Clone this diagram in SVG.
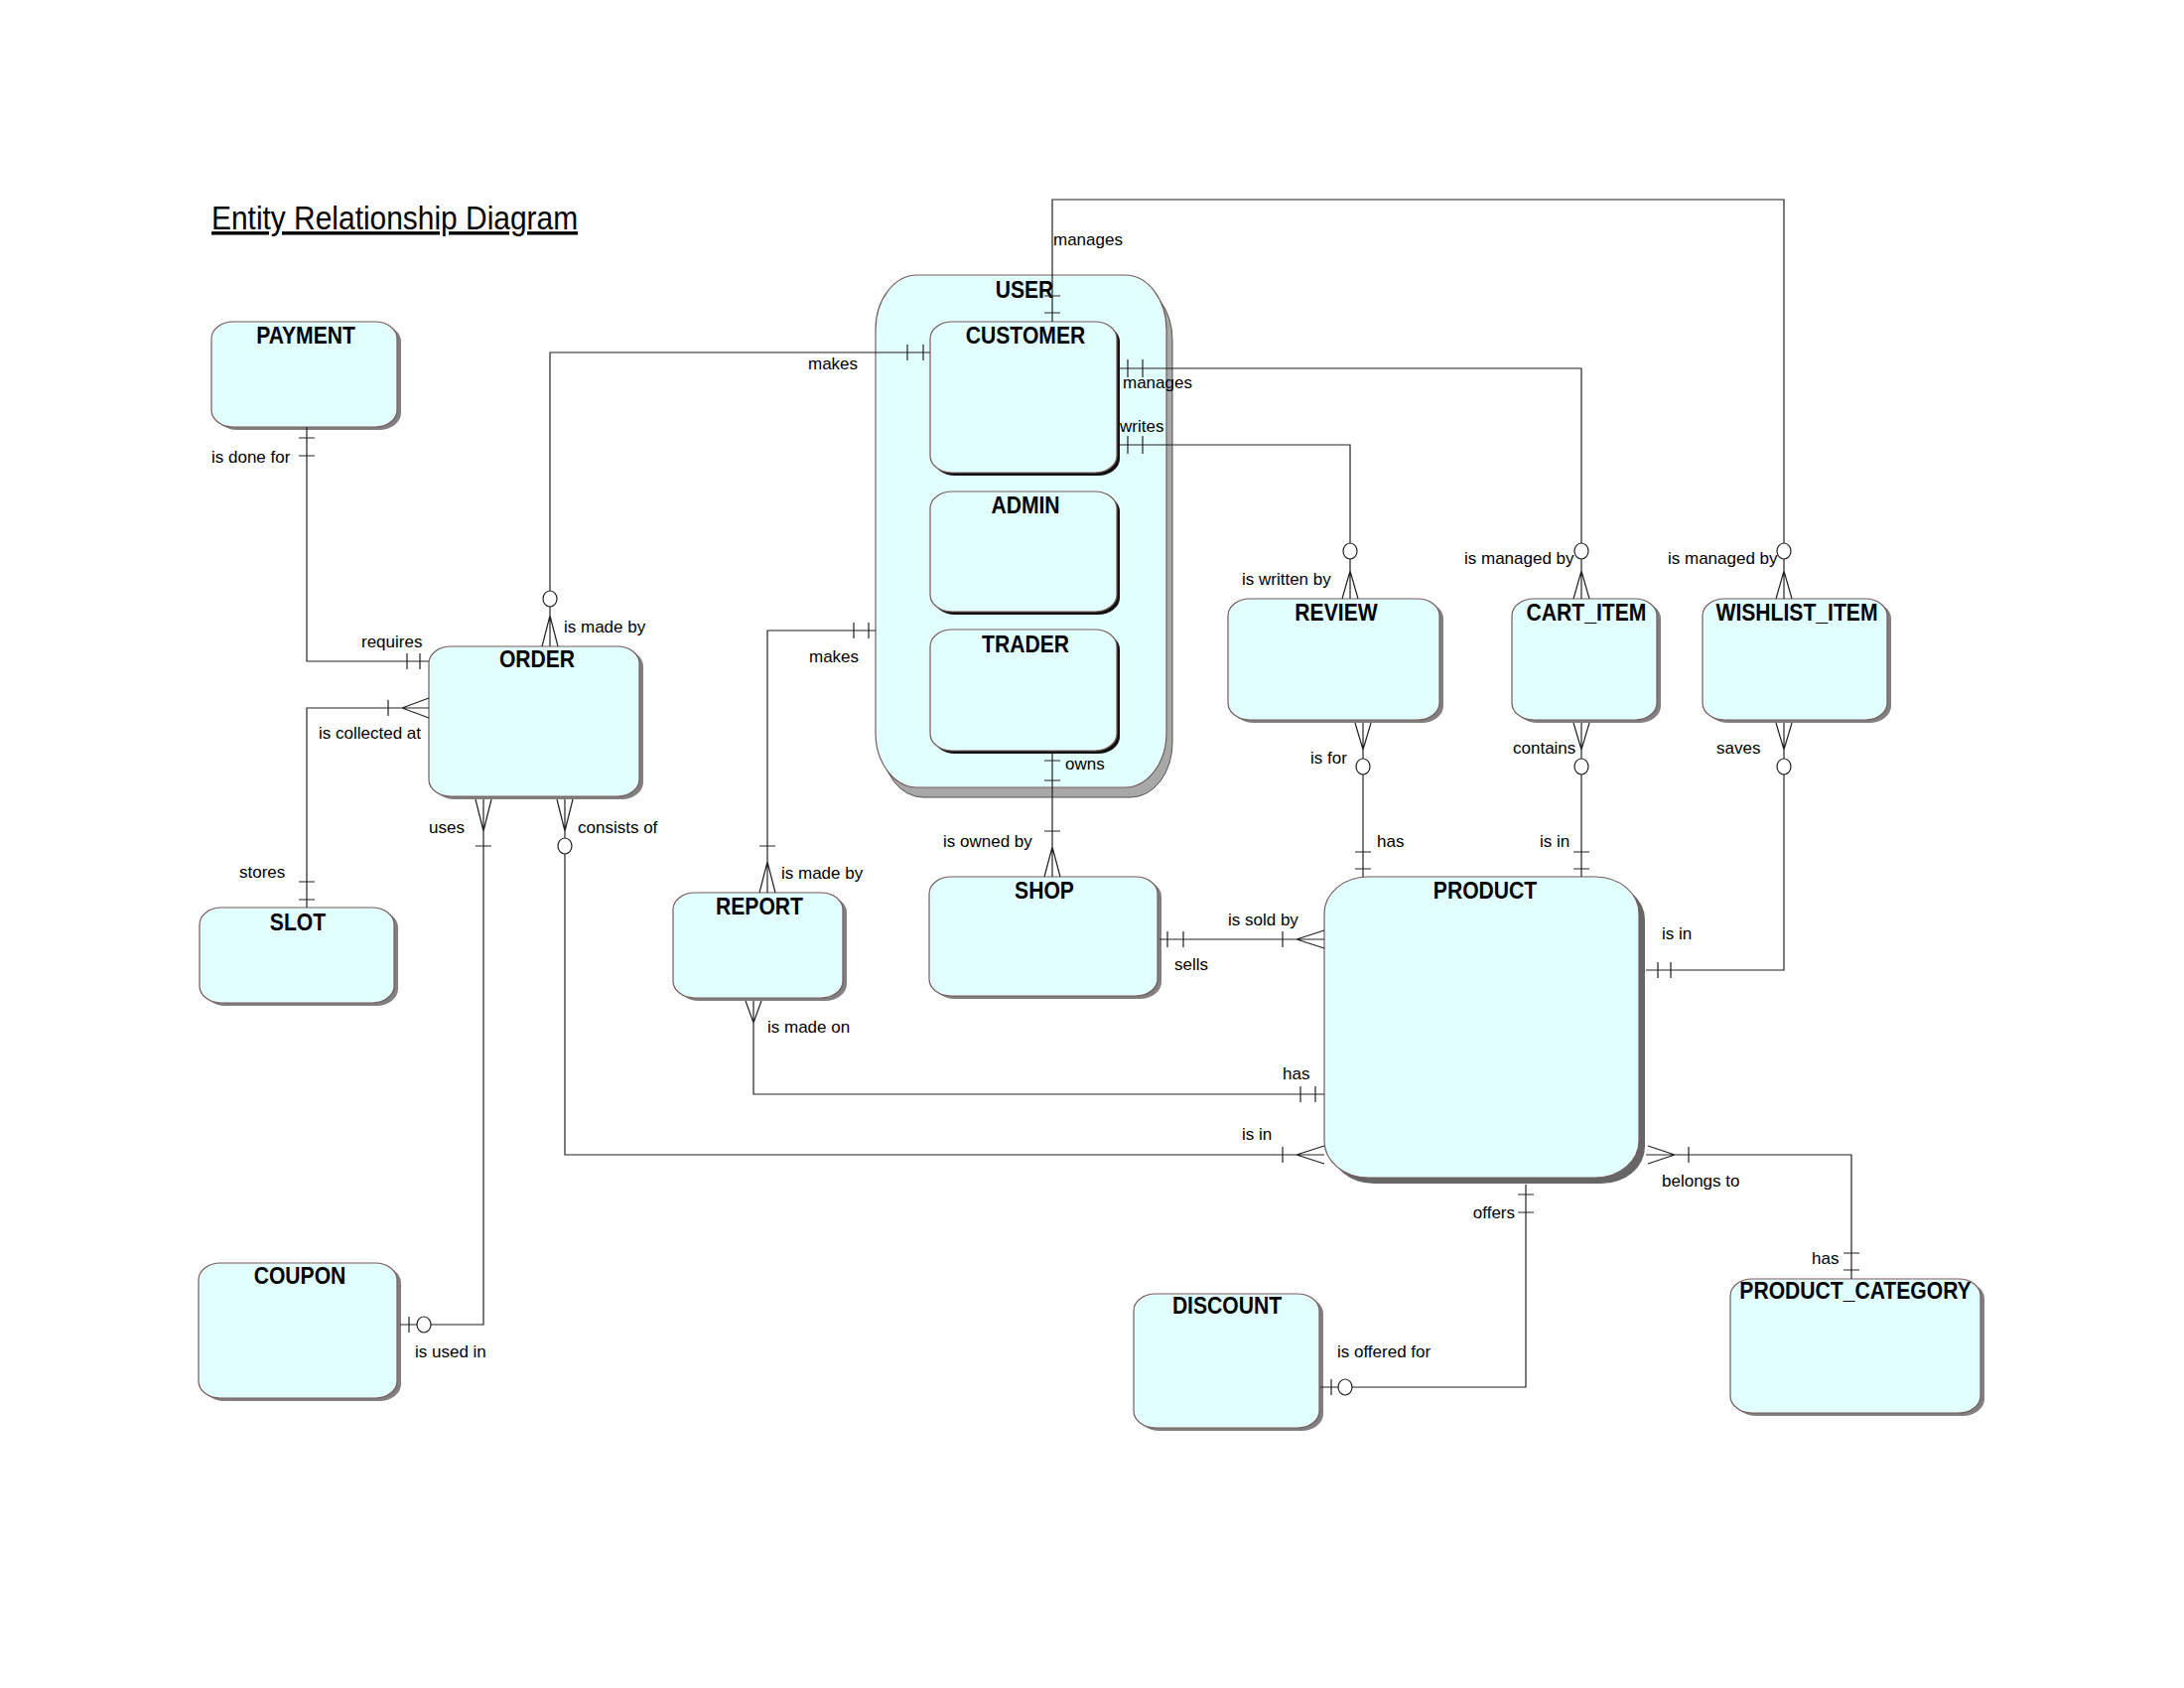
<svg xmlns="http://www.w3.org/2000/svg" width="2200" height="1700" viewBox="0 0 2200 1700">
<style>
.bg{fill:#ffffff}
.ent{fill:#e2ffff;stroke:#7a5a5a;stroke-width:1.2}
.sh{fill:#808080}
.shk{fill:#111111}
.shp{fill:#666666}
.shu{fill:#a8a8a8;stroke:#555;stroke-width:1}
.t{font-family:"Liberation Sans",Arial,sans-serif;font-weight:bold;font-size:24px;text-anchor:middle;fill:#000}
.l{font-family:"Liberation Sans",Arial,sans-serif;font-size:17px;fill:#000}
.c{fill:none;stroke:#222;stroke-width:1.2}
.o{fill:#ffffff;stroke:#222;stroke-width:1.2}
</style>
<rect class="bg" x="0" y="0" width="2200" height="1700"/>
<text id="title" transform="translate(213,231) scale(0.88,1)" font-family="Liberation Sans, Arial, sans-serif" font-size="34" text-decoration="underline">Entity Relationship Diagram</text>

<g id="USER">
  <rect class="shu" x="888" y="287" width="293" height="516" rx="42" ry="55"/>
  <rect class="ent" x="882" y="277" width="293" height="516" rx="42" ry="55"/>
  <text class="t" transform="translate(1032,300) scale(0.88,1)">USER</text>
</g>
<g id="CUSTOMER">
  <rect class="shk" x="940" y="327" width="188" height="152" rx="22" ry="17"/>
  <rect class="ent" x="937" y="324" width="188" height="152" rx="22" ry="17"/>
  <text class="t" transform="translate(1033,346) scale(0.88,1)">CUSTOMER</text>
</g>
<g id="ADMIN">
  <rect class="shk" x="940" y="498" width="188" height="121" rx="22" ry="17"/>
  <rect class="ent" x="937" y="495" width="188" height="121" rx="22" ry="17"/>
  <text class="t" transform="translate(1033,517) scale(0.88,1)">ADMIN</text>
</g>
<g id="TRADER">
  <rect class="shk" x="940" y="637" width="188" height="122" rx="22" ry="17"/>
  <rect class="ent" x="937" y="634" width="188" height="122" rx="22" ry="17"/>
  <text class="t" transform="translate(1033,657) scale(0.88,1)">TRADER</text>
</g>
<g id="PAYMENT">
  <rect class="sh" x="217" y="327" width="187" height="106" rx="22" ry="17"/>
  <rect class="ent" x="213" y="324" width="187" height="106" rx="22" ry="17"/>
  <text class="t" transform="translate(308,346) scale(0.88,1)">PAYMENT</text>
</g>
<g id="ORDER">
  <rect class="sh" x="436" y="654" width="212" height="151" rx="22" ry="17"/>
  <rect class="ent" x="432" y="651" width="212" height="151" rx="22" ry="17"/>
  <text class="t" transform="translate(541,672) scale(0.88,1)">ORDER</text>
</g>
<g id="SLOT">
  <rect class="sh" x="205" y="917" width="196" height="96" rx="22" ry="17"/>
  <rect class="ent" x="201" y="914" width="196" height="96" rx="22" ry="17"/>
  <text class="t" transform="translate(300,937) scale(0.88,1)">SLOT</text>
</g>
<g id="COUPON">
  <rect class="sh" x="204" y="1275" width="200" height="136" rx="22" ry="17"/>
  <rect class="ent" x="200" y="1272" width="200" height="136" rx="22" ry="17"/>
  <text class="t" transform="translate(302,1293) scale(0.88,1)">COUPON</text>
</g>
<g id="REPORT">
  <rect class="sh" x="682" y="902" width="171" height="106" rx="22" ry="17"/>
  <rect class="ent" x="678" y="899" width="171" height="106" rx="22" ry="17"/>
  <text class="t" transform="translate(765,921) scale(0.88,1)">REPORT</text>
</g>
<g id="SHOP">
  <rect class="sh" x="940" y="886" width="230" height="120" rx="22" ry="17"/>
  <rect class="ent" x="936" y="883" width="230" height="120" rx="22" ry="17"/>
  <text class="t" transform="translate(1052,905) scale(0.88,1)">SHOP</text>
</g>
<g id="REVIEW">
  <rect class="sh" x="1241" y="606" width="213" height="122" rx="22" ry="17"/>
  <rect class="ent" x="1237" y="603" width="213" height="122" rx="22" ry="17"/>
  <text class="t" transform="translate(1346,625) scale(0.88,1)">REVIEW</text>
</g>
<g id="CART_ITEM">
  <rect class="sh" x="1527" y="606" width="146" height="122" rx="22" ry="17"/>
  <rect class="ent" x="1523" y="603" width="146" height="122" rx="22" ry="17"/>
  <text class="t" transform="translate(1598,625) scale(0.88,1)">CART_ITEM</text>
</g>
<g id="WISHLIST_ITEM">
  <rect class="sh" x="1719" y="606" width="186" height="122" rx="22" ry="17"/>
  <rect class="ent" x="1715" y="603" width="186" height="122" rx="22" ry="17"/>
  <text class="t" transform="translate(1810,625) scale(0.88,1)">WISHLIST_ITEM</text>
</g>
<g id="PRODUCT">
  <rect class="shp" x="1340" y="889" width="317" height="303" rx="44" ry="37"/>
  <rect class="ent" x="1334" y="883" width="317" height="303" rx="44" ry="37"/>
  <text class="t" transform="translate(1496,905) scale(0.88,1)">PRODUCT</text>
</g>
<g id="DISCOUNT">
  <rect class="sh" x="1146" y="1306" width="187" height="135" rx="22" ry="17"/>
  <rect class="ent" x="1142" y="1303" width="187" height="135" rx="22" ry="17"/>
  <text class="t" transform="translate(1236,1323) scale(0.88,1)">DISCOUNT</text>
</g>
<g id="PRODUCT_CATEGORY">
  <rect class="sh" x="1747" y="1291" width="252" height="135" rx="22" ry="17"/>
  <rect class="ent" x="1743" y="1288" width="252" height="135" rx="22" ry="17"/>
  <text class="t" transform="translate(1869,1308) scale(0.88,1)">PRODUCT_CATEGORY</text>
</g>

<g id="connectors">
  <!-- PAYMENT - ORDER -->
  <path class="c" d="M309,430 V666 H432 M301,441 H317 M301,459 H317 M410,658 V674 M423,658 V674"/>
  <text class="l" x="213" y="466">is done for</text>
  <text class="l" x="364" y="652">requires</text>
  <!-- ORDER - SLOT -->
  <path class="c" d="M432,713 H309 V914 M405,713 L432,703 M405,713 L432,723 M391,705 V721 M301,888 H317 M301,906 H317"/>
  <text class="l" x="321" y="744">is collected at</text>
  <text class="l" x="241" y="884">stores</text>
  <!-- ORDER - CUSTOMER -->
  <path class="c" d="M554,651 V611 M554,596 V355 H937 M554,620 L546,651 M554,620 L562,651 M914,347 V363 M930,347 V363"/>
  <ellipse class="o" cx="554" cy="603" rx="7" ry="8"/>
  <text class="l" x="814" y="372">makes</text>
  <text class="l" x="568" y="637">is made by</text>
  <!-- REPORT - USER -->
  <path class="c" d="M773,899 V635 H882 M860,627 V643 M875,627 V643 M773,868 L765,899 M773,868 L781,899 M765,852 H781"/>
  <text class="l" x="815" y="667">makes</text>
  <text class="l" x="787" y="885">is made by</text>
  <!-- ORDER - COUPON -->
  <path class="c" d="M487,805 V1334 H434 M420,1334 H403 M487,837 L479,805 M487,837 L495,805 M479,852 H495 M412,1326 V1342"/>
  <ellipse class="o" cx="427" cy="1334" rx="7" ry="8"/>
  <text class="l" x="432" y="839">uses</text>
  <text class="l" x="418" y="1367">is used in</text>
  <!-- ORDER - PRODUCT -->
  <path class="c" d="M569,805 V844 M569,860 V1163 H1334 M569,837 L561,805 M569,837 L577,805 M1306,1163 L1334,1154 M1306,1163 L1334,1172 M1292,1155 V1171"/>
  <ellipse class="o" cx="569" cy="852" rx="7" ry="8"/>
  <text class="l" x="582" y="839">consists of</text>
  <text class="l" x="1251" y="1148">is in</text>
  <!-- REPORT - PRODUCT -->
  <path class="c" d="M759,1008 V1102 H1334 M759,1030 L751,1008 M759,1030 L767,1008 M1310,1094 V1110 M1325,1094 V1110"/>
  <text class="l" x="773" y="1040">is made on</text>
  <text class="l" x="1292" y="1087">has</text>
  <!-- TRADER - SHOP -->
  <path class="c" d="M1060,758 V883 M1052,766 H1068 M1052,786 H1068 M1052,837 H1068 M1060,853 L1052,883 M1060,853 L1068,883"/>
  <text class="l" x="1073" y="775">owns</text>
  <text class="l" x="950" y="853">is owned by</text>
  <!-- CUSTOMER - WISHLIST_ITEM -->
  <path class="c" d="M1060,324 V201 H1797 V547 M1797,563 V603 M1052,298 H1068 M1052,315 H1068 M1797,575 L1789,603 M1797,575 L1805,603"/>
  <ellipse class="o" cx="1797" cy="555" rx="7" ry="8"/>
  <text class="l" x="1061" y="247">manages</text>
  <text class="l" x="1680" y="568">is managed by</text>
  <!-- CUSTOMER - CART_ITEM -->
  <path class="c" d="M1128,371 H1593 V547 M1593,563 V603 M1136,362 V380 M1151,362 V380 M1593,575 L1585,603 M1593,575 L1601,603"/>
  <ellipse class="o" cx="1593" cy="555" rx="7" ry="8"/>
  <text class="l" x="1131" y="391">manages</text>
  <text class="l" x="1475" y="568">is managed by</text>
  <!-- CUSTOMER - REVIEW -->
  <path class="c" d="M1128,448 H1360 V547 M1360,563 V603 M1136,439 V457 M1151,439 V457 M1360,575 L1352,603 M1360,575 L1368,603"/>
  <ellipse class="o" cx="1360" cy="555" rx="7" ry="8"/>
  <text class="l" x="1128" y="435">writes</text>
  <text class="l" x="1251" y="589">is written by</text>
  <!-- REVIEW - PRODUCT -->
  <path class="c" d="M1373,728 V764 M1373,780 V883 M1373,755 L1365,728 M1373,755 L1381,728 M1365,858 H1381 M1365,875 H1381"/>
  <ellipse class="o" cx="1373" cy="772" rx="7" ry="8"/>
  <text class="l" x="1320" y="769">is for</text>
  <text class="l" x="1387" y="853">has</text>
  <!-- CART_ITEM - PRODUCT -->
  <path class="c" d="M1593,728 V764 M1593,780 V883 M1593,755 L1585,728 M1593,755 L1601,728 M1585,858 H1601 M1585,875 H1601"/>
  <ellipse class="o" cx="1593" cy="772" rx="7" ry="8"/>
  <text class="l" x="1524" y="759">contains</text>
  <text class="l" x="1551" y="853">is in</text>
  <!-- WISHLIST_ITEM - PRODUCT -->
  <path class="c" d="M1797,728 V764 M1797,780 V977 H1658 M1797,755 L1789,728 M1797,755 L1805,728 M1670,969 V985 M1683,969 V985"/>
  <ellipse class="o" cx="1797" cy="772" rx="7" ry="8"/>
  <text class="l" x="1729" y="759">saves</text>
  <text class="l" x="1674" y="946">is in</text>
  <!-- SHOP - PRODUCT -->
  <path class="c" d="M1168,946 H1334 M1176,938 V954 M1192,938 V954 M1306,946 L1334,937 M1306,946 L1334,955 M1292,938 V954"/>
  <text class="l" x="1237" y="932">is sold by</text>
  <text class="l" x="1183" y="977">sells</text>
  <!-- PRODUCT - PRODUCT_CATEGORY -->
  <path class="c" d="M1658,1163 H1865 V1288 M1687,1163 L1660,1154 M1687,1163 L1660,1172 M1701,1155 V1171 M1857,1262 H1873 M1857,1279 H1873"/>
  <text class="l" x="1674" y="1195">belongs to</text>
  <text class="l" x="1825" y="1273">has</text>
  <!-- PRODUCT - DISCOUNT -->
  <path class="c" d="M1537,1193 V1397 H1362 M1348,1397 H1330 M1529,1203 H1545 M1529,1221 H1545 M1341,1389 V1405"/>
  <ellipse class="o" cx="1355" cy="1397" rx="7" ry="8"/>
  <text class="l" x="1526" y="1227" text-anchor="end">offers</text>
  <text class="l" x="1347" y="1367">is offered for</text>
</g>
</svg>
